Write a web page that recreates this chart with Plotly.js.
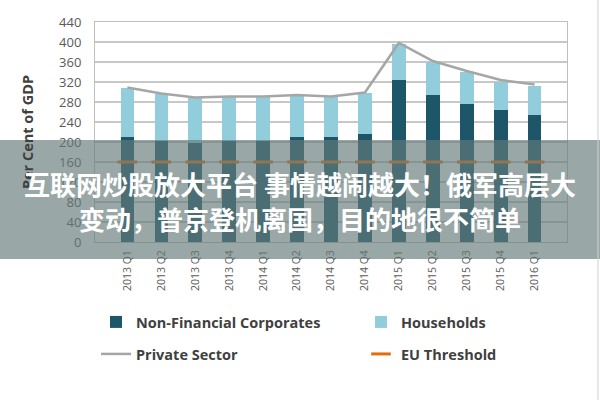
<!DOCTYPE html>
<html>
<head>
<meta charset="utf-8">
<script src="https://cdn.plot.ly/plotly-3.0.1.min.js"></script>
<style>html,body{margin:0;padding:0;background:#fff;}#chart{width:600px;height:400px;}</style>
</head>
<body>
<div id="chart"></div>
<script>
var quarters = ['2013 Q1','2013 Q2','2013 Q3','2013 Q4','2014 Q1','2014 Q2','2014 Q3','2014 Q4','2015 Q1','2015 Q2','2015 Q3','2015 Q4','2016 Q1'];
var nonFinancial = [210, 202, 198, 202, 202, 210, 211, 217, 324, 294, 277, 265, 255];
var households   = [ 98,  95,  91,  89,  89,  84,  80,  82,  73,  67,  64,  56,  57];
var privateSector = [309, 297, 289, 291, 291, 294, 291, 299, 398, 362, 342, 324, 315];
var euThreshold = [160,160,160,160,160,160,160,160,160,160,160,160,160];
var yTicks = [0,40,80,120,160,200,240,280,320,360,400,440];
var bannerLines = ['互联网炒股放大平台 事情越闹越大！俄军高层大', '变动，普京登机离国，目的地很不简单'];

var W = 600, H = 400;
var M = {l: 95, r: 33, t: 22, b: 158};
var pw = W - M.l - M.r, ph = H - M.t - M.b;
function px(x){ return (x - M.l) / pw; }
function py(y){ return (H - M.b - y) / ph; }

var font = 'Open Sans, Liberation Sans, Arial, sans-serif';
var traces = [
  {type:'bar', name:'Non-Financial Corporates', x:quarters, y:nonFinancial,
   marker:{color:'#1d5669'}, legend:'legend', hoverinfo:'skip'},
  {type:'bar', name:'Households', x:quarters, y:households,
   marker:{color:'#92cddc'}, legend:'legend2', hoverinfo:'skip'},
  {type:'scatter', mode:'lines', name:'Private Sector', x:quarters, y:privateSector,
   line:{color:'#a6a6a6', width:2.5}, legend:'legend3'},
  {type:'scatter', mode:'markers', name:'EU Threshold', x:quarters, y:euThreshold,
   marker:{symbol:'line-ew', size:14, line:{color:'#e46c0a', width:3}, color:'#e46c0a'}, legend:'legend4'}
];

function leg(x, y){
  return {orientation:'h', xanchor:'left', yanchor:'middle', x:px(x), y:py(y),
    font:{family:font, size:14.5, color:'#404040', weight:'bold'}, bgcolor:'rgba(0,0,0,0)'};
}

var layout = {
  width:W, height:H, margin:M,
  paper_bgcolor:'#fff', plot_bgcolor:'#fff',
  barmode:'stack', bargap:0.6,
  showlegend:true,
  legend: leg(96, 322),
  legend2: leg(361, 322),
  legend3: leg(96, 354),
  legend4: leg(361, 354),
  xaxis:{type:'category', tickangle:-90, tickfont:{family:font, size:10.5, color:'#595959'},
    showline:true, linecolor:'#bfbfbf', linewidth:1, mirror:true, ticks:'', showgrid:false, ticklabelstandoff:3},
  yaxis:{range:[0,440], tickvals:yTicks, ticktext:yTicks.map(String),
    tickfont:{family:font, size:13, color:'#595959'}, ticklabelstandoff:10,
    gridcolor:'#c8c8c8', gridwidth:1.5, showline:true, linecolor:'#bfbfbf', linewidth:1, mirror:true,
    zeroline:false, ticks:'', ticklen:0,
    title:{text:'Per Cent of GDP', font:{family:font, size:14.5, color:'#404040', weight:'bold'}, standoff:22}},
  shapes:[
    {type:'rect', xref:'paper', yref:'paper', x0:px(0), x1:px(600), y0:py(259), y1:py(140),
     fillcolor:'rgba(100,122,122,0.66)', line:{width:0}, layer:'above'},
    {type:'line', xref:'paper', yref:'paper', x0:px(598), x1:px(598), y0:py(400), y1:py(0),
     line:{color:'#d0d0d0', width:1}, layer:'above'}
  ],
  annotations: bannerLines.map(function(t, i){
    return {xref:'paper', yref:'paper', x:px(300), y:py(i === 0 ? 183 : 218), xanchor:'center', yanchor:'middle',
      showarrow:false, text:t, font:{family:'Noto Sans CJK SC', size:26, color:'#ffffff', weight:'bold'}};
  })
};

Plotly.newPlot('chart', traces, layout, {displayModeBar:false, staticPlot:true});
</script>
</body>
</html>
